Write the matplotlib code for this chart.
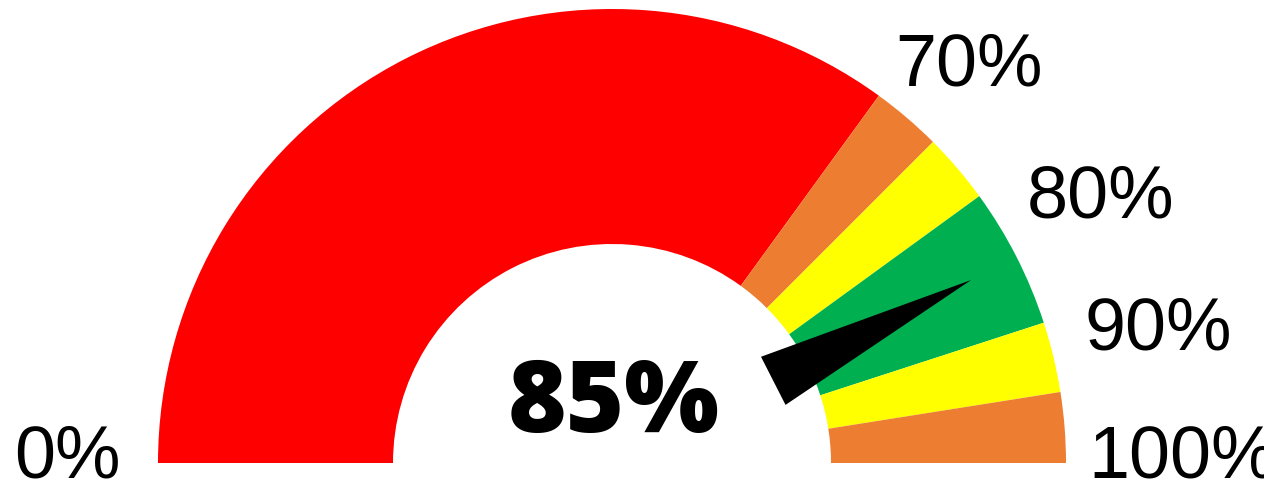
import numpy as np
import matplotlib.pyplot as plt
from matplotlib.patches import Wedge, Polygon

# gauge bands (percent) and their colours
band_edges = [0, 70, 75, 80, 90, 95, 100]
band_colors = ['#FF0000', '#ED7D31', '#FFFF00', '#00B050', '#FFFF00', '#ED7D31']
tick_values = [0, 70, 80, 90, 100]
tick_labels = ['0%', '70%', '80%', '90%', '100%']
needle_value = 85

# layout in pixels, origin at gauge centre
r_out = 454
r_in = 219
label_pos = [(-598, -15), (283, 378), (415, 246), (472, 113), (476, -15)]

def pct_to_deg(p):
    return 180 * (1 - p / 100)

fig = plt.figure(figsize=(12.64, 4.83), dpi=100)
ax = fig.add_axes([0, 0, 1, 1])
ax.set_xlim(-612, 652)
ax.set_ylim(-20, 463)
ax.axis('off')

for i in range(len(band_colors)):
    w = Wedge((0, 0), r_out, pct_to_deg(band_edges[i + 1]), pct_to_deg(band_edges[i]),
              width=r_out - r_in, facecolor=band_colors[i], edgecolor='none')
    ax.add_patch(w)

# tick labels
for (x, y), lab in zip(label_pos, tick_labels):
    ax.text(x, y, lab, fontsize=53, family='Liberation Sans', ha='left', va='baseline')

# needle
a = np.radians(pct_to_deg(needle_value))
d = np.array([np.cos(a), np.sin(a)])
n = np.array([-np.sin(a), np.cos(a)])
tip = 403 * d
base = 181 * d
needle = Polygon([base + 27 * n, tip, base - 27 * n], closed=True, facecolor='black', edgecolor='none')
ax.add_patch(needle)

ax.text(2, 31, f'{needle_value}%', fontsize=72, fontweight=800, family='Open Sans',
        ha='center', va='baseline')

fig.savefig('out.png', dpi=100)
